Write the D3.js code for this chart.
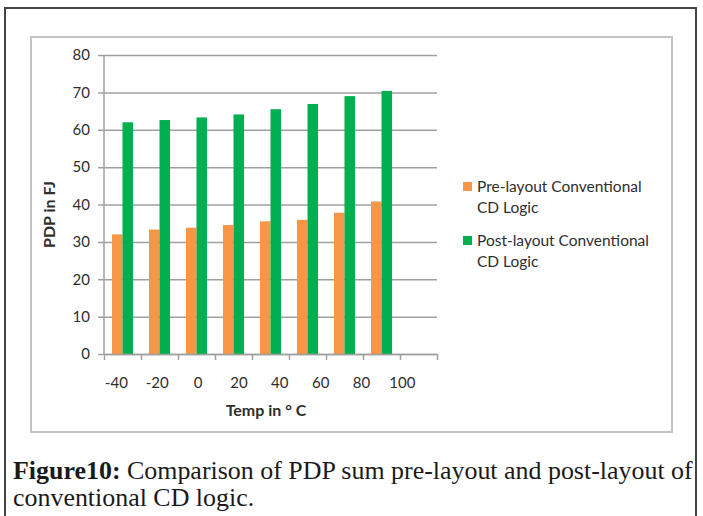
<!DOCTYPE html>
<html>
<head>
<meta charset="utf-8">
<script src="https://cdn.jsdelivr.net/npm/d3@7"></script>
<style>
  html, body { margin: 0; padding: 0; background: #fff; }
  svg { display: block; }
</style>
</head>
<body>
<script>
// Temperatures along the x axis (°C) and PDP values (fJ) for each layout stage
const temps = [-40, -20, 0, 20, 40, 60, 80, 100];
const preLayout = [32.0, 33.3, 33.8, 34.5, 35.5, 35.9, 37.8, 40.8];
const postLayout = [62.0, 62.6, 63.3, 64.1, 65.5, 66.9, 69.0, 70.4];
const yTicks = [0, 10, 20, 30, 40, 50, 60, 70, 80];
const seriesNames = ["Pre-layout Conventional CD Logic", "Post-layout Conventional CD Logic"];
const seriesColors = ["#F79646", "#00B050"];

const W = 703, H = 516;
const plot = { left: 104, right: 437, top: 55, bottom: 354 };
const font = "Lato, 'Open Sans', sans-serif";
const textColor = "#2e2e2e";

const svg = d3.select("body").append("svg").attr("width", W).attr("height", H);

// Page frame and chart area
svg.append("rect").attr("x", 5).attr("y", 8).attr("width", 691).attr("height", H)
  .attr("fill", "none").attr("stroke", "#444").attr("stroke-width", 2);
svg.append("rect").attr("x", 31).attr("y", 37).attr("width", 641).attr("height", 395)
  .attr("fill", "#fff").attr("stroke", "#c4c4c4").attr("stroke-width", 2);

// Scales: one slot per temperature plus a trailing empty slot
const slots = temps.length + 1;
const x = d3.scaleBand().domain(d3.range(slots)).range([plot.left, plot.right]).padding(0);
const bw = x.bandwidth();
const groupFrac = 0.57;
const sub = d3.scaleBand().domain([0, 1]).range([0, bw * groupFrac]);
const y = d3.scaleLinear().domain([0, 80]).range([plot.bottom, plot.top]);

// Gridlines with outward tick stubs
const grid = svg.append("g").attr("transform", `translate(${plot.left - 6},0)`)
  .call(d3.axisLeft(y).tickValues(yTicks).tickSize(-(plot.right - plot.left + 6)).tickFormat(""));
grid.select(".domain").remove();
grid.selectAll("line").attr("stroke", "#a0a0a0").attr("stroke-width", 1.5);

// Y axis line and labels
svg.append("line").attr("x1", plot.left).attr("x2", plot.left)
  .attr("y1", y(80)).attr("y2", y(0)).attr("stroke", "#a0a0a0").attr("stroke-width", 1.5);
const yAxis = svg.append("g").attr("transform", `translate(${plot.left},0)`)
  .call(d3.axisLeft(y).tickValues(yTicks).tickSize(0).tickPadding(14));
yAxis.select(".domain").remove();
yAxis.selectAll("text").attr("font-family", font).attr("font-size", 15).attr("fill", textColor);

// Bars
const groups = svg.append("g");
[preLayout, postLayout].forEach((vals, s) => {
  groups.selectAll(null).data(vals).enter().append("rect")
    .attr("x", (d, i) => x(i) + bw * (1 - groupFrac) / 2 + sub(s))
    .attr("width", sub.bandwidth())
    .attr("y", d => y(d))
    .attr("height", d => y(0) - y(d))
    .attr("fill", seriesColors[s]);
});

// X axis with tick marks on slot boundaries
const xEdge = d3.scaleLinear().domain([0, slots]).range([plot.left, plot.right]);
const xAxis = svg.append("g").attr("transform", `translate(0,${plot.bottom})`)
  .call(d3.axisBottom(xEdge).tickValues(d3.range(slots + 1)).tickSize(6).tickSizeOuter(0).tickFormat(""));
xAxis.selectAll("line, path").attr("stroke", "#a0a0a0").attr("stroke-width", 1.5);

// Temperature labels
const xLab = d3.scalePoint().domain(temps).range([plot.left + bw * 0.32, plot.left + bw * 8.05]);
const xLabAxis = svg.append("g").attr("transform", `translate(0,${plot.bottom})`)
  .call(d3.axisBottom(xLab).tickSize(0).tickPadding(23));
xLabAxis.select(".domain").remove();
xLabAxis.selectAll("text").attr("font-family", font).attr("font-size", 15).attr("fill", textColor)
  .attr("dy", "0.32em").attr("y", 29);

// Axis titles
svg.append("text").attr("x", 266).attr("y", 416).attr("text-anchor", "middle")
  .attr("font-family", font).attr("font-size", 16).attr("font-weight", 700).attr("fill", textColor)
  .text("Temp in \u00B0 C");
svg.append("text").attr("transform", `translate(55,${(plot.top + plot.bottom) / 2 + 10}) rotate(-90)`)
  .attr("text-anchor", "middle")
  .attr("font-family", font).attr("font-size", 16).attr("font-weight", 700).attr("fill", textColor)
  .text("PDP in FJ");

// Legend
const legend = svg.append("g").attr("transform", "translate(463,182)");
seriesNames.forEach((name, s) => {
  const g = legend.append("g").attr("transform", `translate(0,${s * 54})`);
  g.append("rect").attr("width", 9).attr("height", 9).attr("fill", seriesColors[s]);
  const words = name.split(" ");
  const lines = [words.slice(0, 2).join(" "), words.slice(2).join(" ")];
  lines.forEach((ln, k) => {
    g.append("text").attr("x", 14).attr("y", 5 + k * 21).attr("dy", "0.35em")
      .attr("font-family", font).attr("font-size", 15.5).attr("fill", textColor).text(ln);
  });
});

// Figure caption
const cap = svg.append("g").attr("font-family", "'Liberation Serif', 'DejaVu Serif', serif").attr("fill", "#1a1a1a");
const line1 = cap.append("text").attr("x", 13).attr("y", 479).attr("font-size", 22);
line1.append("tspan").attr("font-weight", 700).text("Figure10:");
line1.append("tspan").text(" Comparison of PDP sum pre-layout and post-layout of");
const target = 680;
const fs = 22 * target / line1.node().getComputedTextLength();
line1.attr("font-size", fs);
cap.append("text").attr("x", 13).attr("y", 506).attr("font-size", fs).text("conventional CD logic.");
</script>
</body>
</html>
